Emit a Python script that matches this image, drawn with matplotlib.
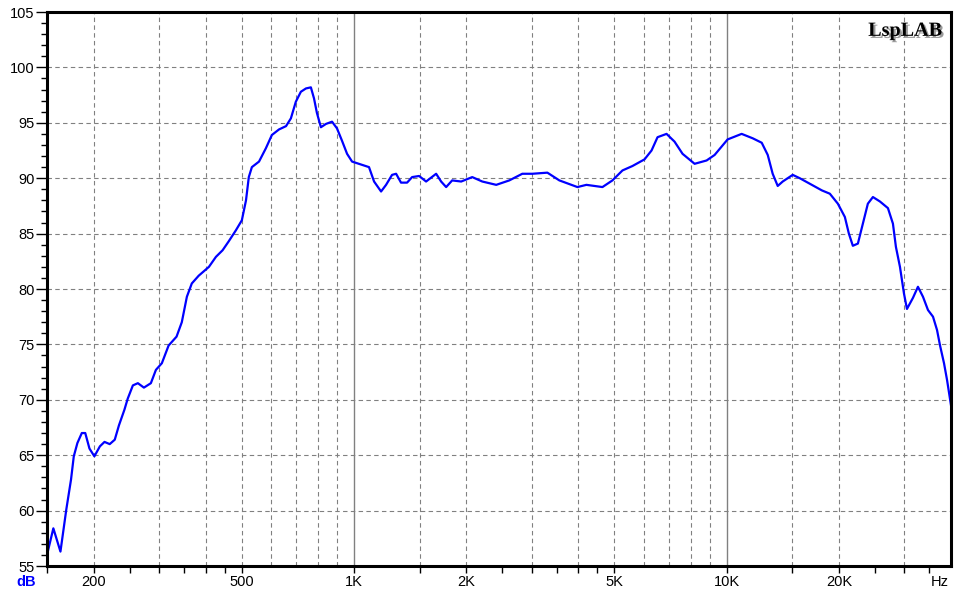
import numpy as np
import matplotlib.pyplot as plt
import matplotlib.patheffects as pe
from matplotlib.ticker import FixedLocator, NullFormatter, MultipleLocator

plt.rcParams['font.family'] = ['Liberation Sans', 'DejaVu Sans']

# frequency response
freq = [150, 156, 163, 169, 174, 177, 181, 186, 190, 195, 201, 208, 214, 221, 228,
        234, 242, 247, 255, 263, 273, 285, 294, 305, 318, 334, 345, 356, 367, 383,
        408, 426, 444, 461, 482, 500, 513, 522, 532, 556, 580, 602, 629, 657, 677,
        698, 720, 743, 766, 781, 795, 815, 841, 873, 900, 928, 958, 988, 1031, 1097,
        1132, 1182, 1219, 1265, 1297, 1337, 1388, 1432, 1495, 1561, 1661, 1713, 1767,
        1834, 1939, 2076, 2209, 2408, 2610, 2829, 3010, 3303, 3557, 3977, 4204, 4642,
        4937, 5253, 5588, 6020, 6287, 6524, 6898, 7247, 7615, 8204, 8835, 9284, 10060,
        10970, 11750, 12420, 12890, 13290, 13710, 14140, 15040, 15710, 16720, 18010,
        18920, 19880, 20760, 21280, 21810, 22500, 23210, 23930, 24690, 25780, 27090,
        27940, 28460, 29180, 29910, 30470, 31620, 32610, 33640, 34700, 35790, 36690,
        37380, 38310, 39030, 40000]
spl = [56.0, 58.4, 56.3, 60.1, 62.8, 64.9, 66.1, 67.0, 67.0, 65.6, 64.9, 65.8, 66.2, 66.0, 66.4,
       67.7, 69.1, 70.1, 71.3, 71.5, 71.1, 71.5, 72.7, 73.3, 74.9, 75.7, 77.0, 79.3, 80.5, 81.2,
       82.0, 82.9, 83.5, 84.3, 85.3, 86.2, 88.0, 90.1, 91.0, 91.5, 92.7, 93.9, 94.4, 94.7, 95.4,
       96.9, 97.8, 98.1, 98.2, 97.2, 95.9, 94.6, 94.9, 95.1, 94.5, 93.4, 92.2, 91.5, 91.3, 91.0,
       89.7, 88.8, 89.4, 90.3, 90.4, 89.6, 89.6, 90.1, 90.2, 89.7, 90.4, 89.7, 89.2,
       89.8, 89.7, 90.1, 89.7, 89.4, 89.8, 90.4, 90.4, 90.5, 89.8, 89.2, 89.4, 89.2,
       89.8, 90.7, 91.1, 91.7, 92.5, 93.7, 94.0, 93.3, 92.2, 91.3, 91.6, 92.1, 93.5,
       94.0, 93.6, 93.2, 92.1, 90.4, 89.3, 89.7, 90.3, 90.0, 89.5, 88.9,
       88.6, 87.7, 86.5, 85.0, 83.9, 84.1, 85.9, 87.7, 88.3, 87.9, 87.3,
       85.9, 83.8, 82.0, 79.6, 78.2, 79.2, 80.2, 79.3, 78.1, 77.5, 76.3,
       74.9, 73.3, 71.8, 69.5]

tick_freqs = [150, 200, 250, 300, 350, 400, 450, 500, 1000, 1500, 2000, 2500, 3000, 3500,
              4000, 4500, 5000, 10000, 15000, 20000, 25000, 30000, 35000]
label_freqs = [200, 500, 1000, 2000, 5000, 10000, 20000]
label_text = ['200', '500', '1K', '2K', '5K', '10K', '20K']
grid_freqs = [200, 300, 400, 500, 600, 700, 800, 900, 1500, 2000, 3000, 4000, 5000,
              6000, 7000, 8000, 9000, 15000, 20000, 30000]
solid_freqs = [1000, 10000]

fig = plt.figure(figsize=(9.57, 5.96), dpi=100)
ax = fig.add_axes([47 / 957, 30 / 596, 904 / 957, 554 / 596])
ax.set_xscale('log')
ax.set_xlim(150, 40000)
ax.set_ylim(55, 105)

for f in grid_freqs:
    ax.axvline(f, color='#808080', lw=0.8, ls=(0, (4, 3)), zorder=1)
for f in solid_freqs:
    ax.axvline(f, color='#808080', lw=1.0, zorder=1)
for v in range(60, 105, 5):
    ax.axhline(v, color='#808080', lw=0.8, ls=(0, (4, 3)), zorder=1)

ax.plot(freq, spl, color='#0000ff', lw=1.6, zorder=3)

ax.xaxis.set_major_locator(FixedLocator(tick_freqs))
ax.xaxis.set_major_formatter(NullFormatter())
ax.xaxis.set_minor_locator(FixedLocator([]))
ax.xaxis.set_minor_formatter(NullFormatter())
ax.tick_params(axis='x', which='major', direction='out', length=5, width=1, color='black')
lab_y = ax.get_xaxis_transform()
for f, t in zip(label_freqs, label_text):
    ax.text(f, -16 / 554, t, transform=lab_y, ha='center', va='center',
            fontsize=10.5, color='black')
ax.text(940 / 957, 14 / 596, 'Hz', transform=fig.transFigure, ha='center', va='center',
        fontsize=10.5, color='black')
ax.text(26 / 957, 14 / 596, 'dB', transform=fig.transFigure, ha='center', va='center',
        fontsize=10.5, color='#0000ff', fontweight='bold')

ax.yaxis.set_major_locator(MultipleLocator(5))
ax.yaxis.set_minor_locator(MultipleLocator(1))
ax.tick_params(axis='y', which='major', direction='out', length=8, width=1, labelsize=10.5, pad=1)
ax.tick_params(axis='y', which='minor', direction='out', length=4, width=1)

for s in ax.spines.values():
    s.set_linewidth(2.2)
    s.set_color('black')
    s.set_zorder(4)

# watermark with shadow
ax.text(0.99, 0.966, 'LspLAB', transform=ax.transAxes, ha='right', va='center',
        fontsize=14.5, fontweight='bold', family='Liberation Serif', color='black', zorder=6,
        path_effects=[pe.SimplePatchShadow(offset=(1.5, -1.5), shadow_rgbFace='#9a9a9a', alpha=1),
                      pe.Normal()])

fig.savefig('out.png', dpi=100)
